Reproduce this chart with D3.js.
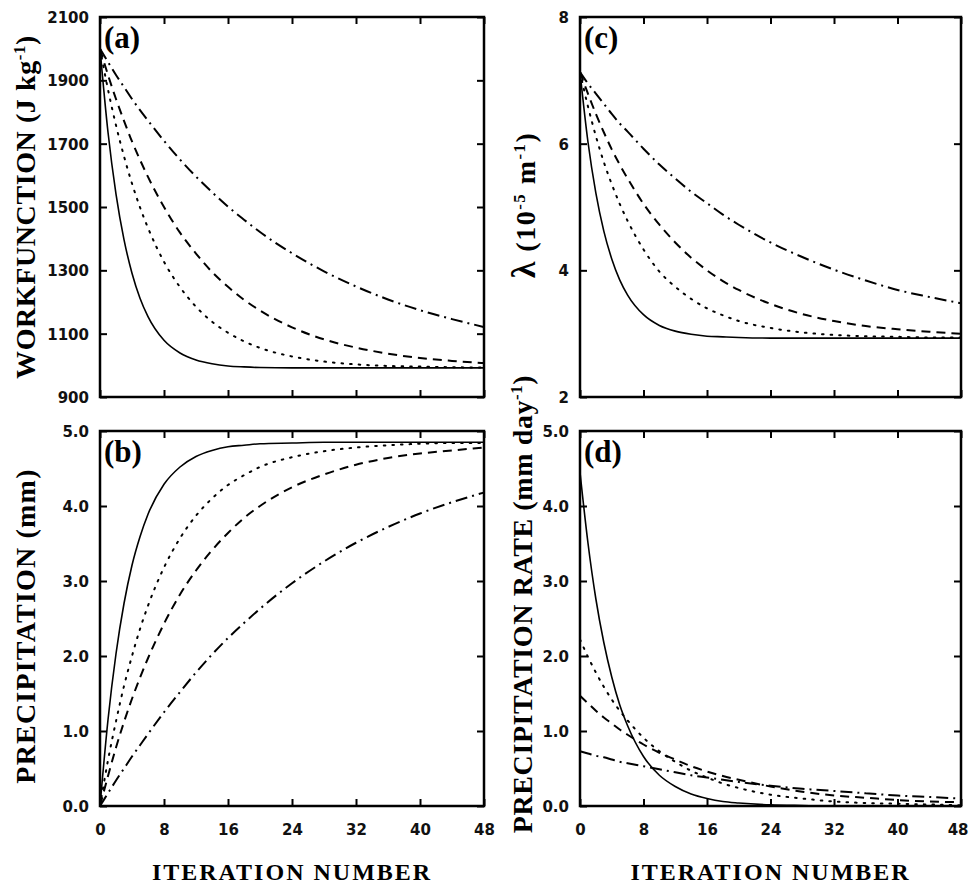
<!DOCTYPE html>
<html>
<head>
<meta charset="utf-8">
<script src="https://cdn.jsdelivr.net/npm/d3@7"></script>
<style>
  body { margin: 0; background: #fff; }
</style>
</head>
<body>
<svg id="fig" width="969" height="887"></svg>
<script>
var iters = [0, 1, 2, 3, 4, 5, 6, 8, 10, 12, 14, 16, 18, 20, 24, 28, 32, 36, 40, 44, 48];

// (a) workfunction, J/kg
var workSolid  = [2000, 1736, 1541, 1397, 1291, 1212, 1154, 1079, 1039, 1017, 1005, 998, 995, 993, 992, 992, 992, 992, 992, 992, 992];
var workDotted = [2000, 1871, 1758, 1660, 1574, 1499, 1434, 1327, 1247, 1185, 1138, 1103, 1076, 1055, 1028, 1012, 1003, 998, 996, 994, 993];
var workDashed = [2000, 1917, 1841, 1772, 1707, 1649, 1595, 1500, 1419, 1353, 1295, 1248, 1207, 1173, 1120, 1082, 1056, 1037, 1023, 1014, 1007];
var workDashDot = [2000, 1958, 1917, 1879, 1841, 1806, 1773, 1709, 1650, 1596, 1547, 1501, 1460, 1421, 1354, 1297, 1249, 1208, 1174, 1146, 1121];

// (b) precipitation, mm
var precSolid  = [0, 1.15, 2.03, 2.70, 3.21, 3.59, 3.89, 4.29, 4.52, 4.66, 4.74, 4.79, 4.81, 4.83, 4.84, 4.85, 4.85, 4.85, 4.85, 4.85, 4.85];
var precDotted = [0, 0.61, 1.13, 1.60, 2.00, 2.36, 2.67, 3.18, 3.57, 3.87, 4.10, 4.28, 4.41, 4.52, 4.65, 4.73, 4.78, 4.81, 4.83, 4.84, 4.84];
var precDashed = [0, 0.40, 0.78, 1.12, 1.43, 1.71, 1.97, 2.43, 2.82, 3.14, 3.41, 3.64, 3.84, 4.00, 4.25, 4.42, 4.55, 4.64, 4.70, 4.74, 4.78];
var precDashDot = [0, 0.17, 0.34, 0.50, 0.66, 0.81, 0.96, 1.25, 1.52, 1.78, 2.02, 2.24, 2.44, 2.63, 2.97, 3.26, 3.51, 3.72, 3.90, 4.05, 4.18];

// (c) lambda, 1e-5 per m
var lamSolid  = [7.13, 6.03, 5.22, 4.62, 4.18, 3.85, 3.61, 3.30, 3.13, 3.04, 2.99, 2.96, 2.95, 2.94, 2.93, 2.93, 2.93, 2.93, 2.93, 2.93, 2.93];
var lamDotted = [7.13, 6.59, 6.12, 5.71, 5.36, 5.05, 4.78, 4.33, 3.98, 3.74, 3.55, 3.40, 3.29, 3.20, 3.09, 3.02, 2.98, 2.96, 2.95, 2.94, 2.94];
var lamDashed = [7.13, 6.79, 6.47, 6.18, 5.91, 5.67, 5.45, 5.05, 4.72, 4.44, 4.20, 4.00, 3.83, 3.69, 3.47, 3.31, 3.20, 3.12, 3.07, 3.03, 3.00];
var lamDashDot = [7.13, 6.95, 6.79, 6.63, 6.47, 6.32, 6.19, 5.92, 5.67, 5.45, 5.24, 5.06, 4.88, 4.72, 4.44, 4.21, 4.01, 3.84, 3.69, 3.58, 3.48];

// (d) precipitation rate, mm/day
var rateSolid  = [4.45, 3.51, 2.76, 2.18, 1.72, 1.35, 1.07, 0.66, 0.41, 0.26, 0.16, 0.10, 0.06, 0.04, 0.015, 0.006, 0, 0, 0, 0, 0];
var rateDotted = [2.22, 1.99, 1.78, 1.59, 1.42, 1.27, 1.14, 0.91, 0.73, 0.59, 0.47, 0.38, 0.30, 0.24, 0.15, 0.10, 0.06, 0.04, 0.03, 0.02, 0.01];
var rateDashed = [1.47, 1.37, 1.27, 1.18, 1.10, 1.02, 0.95, 0.82, 0.71, 0.62, 0.53, 0.46, 0.40, 0.35, 0.26, 0.19, 0.14, 0.11, 0.08, 0.06, 0.05];
var rateDashDot = [0.73, 0.70, 0.67, 0.65, 0.62, 0.59, 0.57, 0.53, 0.49, 0.45, 0.41, 0.38, 0.35, 0.32, 0.27, 0.23, 0.20, 0.17, 0.14, 0.12, 0.10];

var xTicks = [0, 8, 16, 24, 32, 40, 48];
var workTicks = [900, 1100, 1300, 1500, 1700, 1900, 2100];
var precTicks = [0, 1, 2, 3, 4, 5];
var lamTicks = [2, 4, 6, 8];

var dashes = [null, "1.6,7", "9,6", "12,5,2,5"];

var svg = d3.select("#fig");
var serif = "Liberation Serif, Times New Roman, serif";

function addTitle (parts, cx, cy, size, spacing) {
  var t = svg.append("text")
    .attr("transform", "translate(" + cx + "," + cy + ") rotate(-90)")
    .attr("text-anchor", "middle")
    .attr("font-family", serif)
    .attr("font-weight", "bold")
    .attr("font-size", size)
    .attr("letter-spacing", spacing);
  parts.forEach(function (p) {
    var s = t.append("tspan").text(p.t);
    if (p.sup) s.attr("dy", -10).attr("font-size", size * 0.6);
    if (p.after) s.attr("dy", 10);
    if (p.big) s.attr("font-size", p.big);
  });
}

function drawPanel (p) {
  var x = d3.scaleLinear().domain([0, 48]).range([p.x0, p.x1]);
  var y = d3.scaleLinear().domain(p.ydom).range([p.y1, p.y0]);
  var g = svg.append("g");

  var left = g.append("g").attr("transform", "translate(" + p.x0 + ",0)")
    .call(d3.axisLeft(y).tickValues(p.yticks).tickSize(-7).tickSizeOuter(0).tickPadding(11).tickFormat(p.fmt));
  var right = g.append("g").attr("transform", "translate(" + p.x1 + ",0)")
    .call(d3.axisRight(y).tickValues(p.yticks).tickSize(-7).tickSizeOuter(0).tickFormat(""));
  var top = g.append("g").attr("transform", "translate(0," + p.y0 + ")")
    .call(d3.axisTop(x).tickValues(xTicks).tickSize(-7).tickSizeOuter(0).tickFormat(""));
  var bottom = g.append("g").attr("transform", "translate(0," + p.y1 + ")")
    .call(d3.axisBottom(x).tickValues(xTicks).tickSize(-7).tickSizeOuter(0).tickPadding(18)
      .tickFormat(p.xlabels ? d3.format("d") : ""));

  [left, right, top, bottom].forEach(function (a) {
    a.select(".domain").remove();
    a.selectAll("line").attr("stroke", "#000").attr("stroke-width", 2);
    a.selectAll("text")
      .attr("font-family", "DejaVu Sans, sans-serif")
      .attr("font-weight", "bold")
      .attr("font-size", 15)
      .attr("fill", "#111");
  });
  left.selectAll("text").attr("dy", "0.36em");
  // the last label sits on the page edge
  bottom.selectAll(".tick text").filter(function (d) { return d == 48 && p.x1 > 900; })
    .attr("text-anchor", "end").attr("x", 968 - p.x1);

  g.append("rect")
    .attr("x", p.x0).attr("y", p.y0)
    .attr("width", p.x1 - p.x0).attr("height", p.y1 - p.y0)
    .attr("fill", "none").attr("stroke", "#000").attr("stroke-width", 2.5);

  var line = d3.line()
    .x(function (d) { return x(d[0]); })
    .y(function (d) { return y(d[1]); })
    .curve(d3.curveMonotoneX);

  p.series.forEach(function (vals, i) {
    g.append("path")
      .datum(iters.map(function (t, k) { return [t, vals[k]]; }))
      .attr("d", line)
      .attr("fill", "none")
      .attr("stroke", "#000")
      .attr("stroke-width", i == 0 ? 1.6 : 2)
      .attr("stroke-linecap", i == 1 ? "round" : "butt")
      .attr("stroke-dasharray", dashes[i]);
  });

  g.append("text")
    .attr("x", p.x0 + 4).attr("y", p.y0 + 31)
    .attr("font-family", serif)
    .attr("font-weight", "bold")
    .attr("font-size", 31)
    .text(p.tag);
}

var L = {x0: 100, x1: 484}, R = {x0: 580, x1: 961};
var TOP = {y0: 17, y1: 397}, BOT = {y0: 431, y1: 806};

drawPanel({x0: L.x0, x1: L.x1, y0: TOP.y0, y1: TOP.y1, ydom: [900, 2100], yticks: workTicks,
  fmt: d3.format("d"), xlabels: false, tag: "(a)",
  series: [workSolid, workDotted, workDashed, workDashDot]});
drawPanel({x0: L.x0, x1: L.x1, y0: BOT.y0, y1: BOT.y1, ydom: [0, 5], yticks: precTicks,
  fmt: d3.format(".1f"), xlabels: true, tag: "(b)",
  series: [precSolid, precDotted, precDashed, precDashDot]});
drawPanel({x0: R.x0, x1: R.x1, y0: TOP.y0, y1: TOP.y1, ydom: [2, 8], yticks: lamTicks,
  fmt: d3.format("d"), xlabels: false, tag: "(c)",
  series: [lamSolid, lamDotted, lamDashed, lamDashDot]});
drawPanel({x0: R.x0, x1: R.x1, y0: BOT.y0, y1: BOT.y1, ydom: [0, 5], yticks: precTicks,
  fmt: d3.format(".1f"), xlabels: true, tag: "(d)",
  series: [rateSolid, rateDotted, rateDashed, rateDashDot]});

// axis titles
addTitle([{t: "WORKFUNCTION (J  kg"}, {t: "-1", sup: true}, {t: ")", after: true}], 35, 207, 28, 0.6);
addTitle([{t: "PRECIPITATION  (mm)"}], 35, 626, 28, 1.2);
addTitle([{t: "\u03bb", big: 34}, {t: "  (10"}, {t: "-5", sup: true}, {t: "  m", after: true}, {t: "-1", sup: true}, {t: ")", after: true}], 535, 205, 28, 1.5);
addTitle([{t: "PRECIPITATION  RATE  (mm  day"}, {t: "-1", sup: true}, {t: ")", after: true}], 532, 604, 28, 0.6);

[L, R].forEach(function (c) {
  svg.append("text")
    .attr("x", (c.x0 + c.x1) / 2).attr("y", 880)
    .attr("text-anchor", "middle")
    .attr("font-family", serif)
    .attr("font-weight", "bold")
    .attr("font-size", 24)
    .attr("letter-spacing", 2)
    .text("ITERATION NUMBER");
});
</script>
</body>
</html>
